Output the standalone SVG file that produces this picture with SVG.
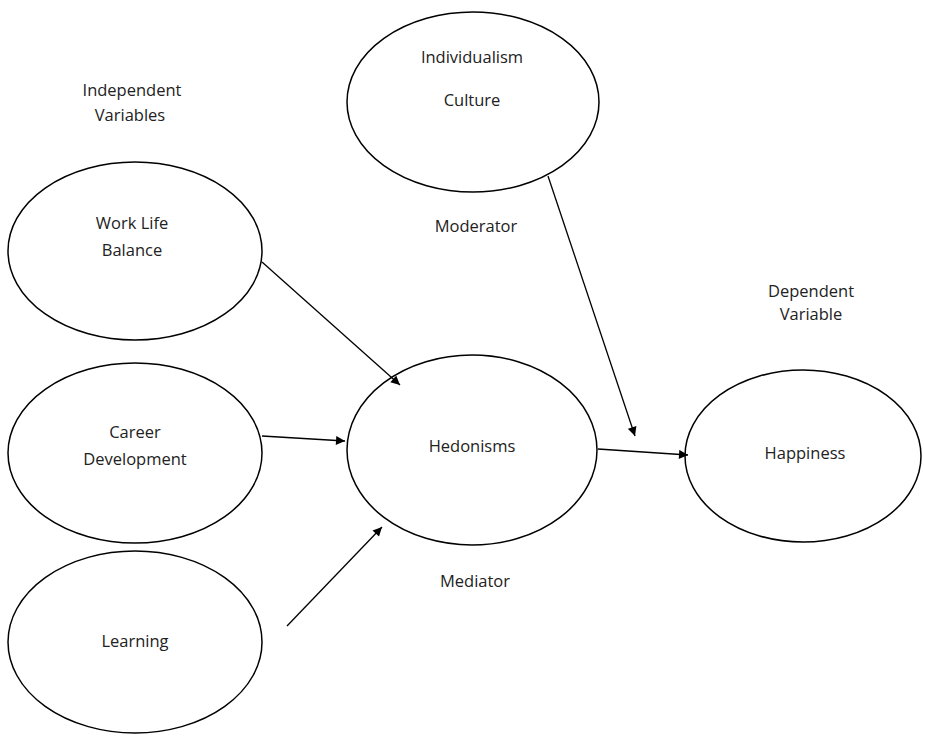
<svg xmlns="http://www.w3.org/2000/svg" width="925" height="738" viewBox="0 0 925 738">
<defs>
<marker id="ah" viewBox="0 0 10 10" refX="10" refY="5" markerWidth="10" markerHeight="9" markerUnits="userSpaceOnUse" orient="auto">
<path d="M0,0 L10,5 L0,10 z" fill="#000"/>
</marker>
<style>
.n{fill:#fff;stroke:#000;stroke-width:1.5}
.t{font-family:"Open Sans","Liberation Sans",sans-serif;font-size:16.5px;fill:#222;text-anchor:middle}
.c{stroke:#000;stroke-width:1.3;fill:none;marker-end:url(#ah)}
</style>
</defs>
<rect width="925" height="738" fill="#fff"/>
<g id="labels">
<text class="t" x="132" y="96">Independent</text>
<text class="t" x="130" y="121">Variables</text>
<text class="t" x="476" y="232">Moderator</text>
<text class="t" x="811" y="297">Dependent</text>
<text class="t" x="811" y="320">Variable</text>
<text class="t" x="475" y="587">Mediator</text>
</g>
<g id="culture"><ellipse class="n" cx="473" cy="102" rx="126" ry="90"/><text class="t" x="472" y="63">Individualism</text><text class="t" x="472" y="106">Culture</text></g>
<g id="wlb"><ellipse class="n" cx="135" cy="251" rx="127" ry="89"/><text class="t" x="132" y="229">Work Life</text><text class="t" x="132" y="256">Balance</text></g>
<g id="career"><ellipse class="n" cx="135" cy="453" rx="127" ry="90"/><text class="t" x="135" y="438">Career</text><text class="t" x="135" y="465">Development</text></g>
<g id="learning"><ellipse class="n" cx="135" cy="642" rx="127" ry="91"/><text class="t" x="135" y="647">Learning</text></g>
<g id="hedonisms"><ellipse class="n" cx="472" cy="450" rx="125" ry="95"/><text class="t" x="472" y="452">Hedonisms</text></g>
<g id="happiness"><ellipse class="n" cx="803" cy="456" rx="118" ry="86"/><text class="t" x="805" y="459">Happiness</text></g>
<g id="connectors">
<line class="c" x1="262" y1="262" x2="400" y2="385"/>
<line class="c" x1="262" y1="436" x2="345" y2="441"/>
<line class="c" x1="287" y1="626" x2="382" y2="527"/>
<line class="c" x1="548" y1="176" x2="635" y2="436"/>
<line class="c" x1="598" y1="449" x2="688" y2="455"/>
</g>
</svg>
